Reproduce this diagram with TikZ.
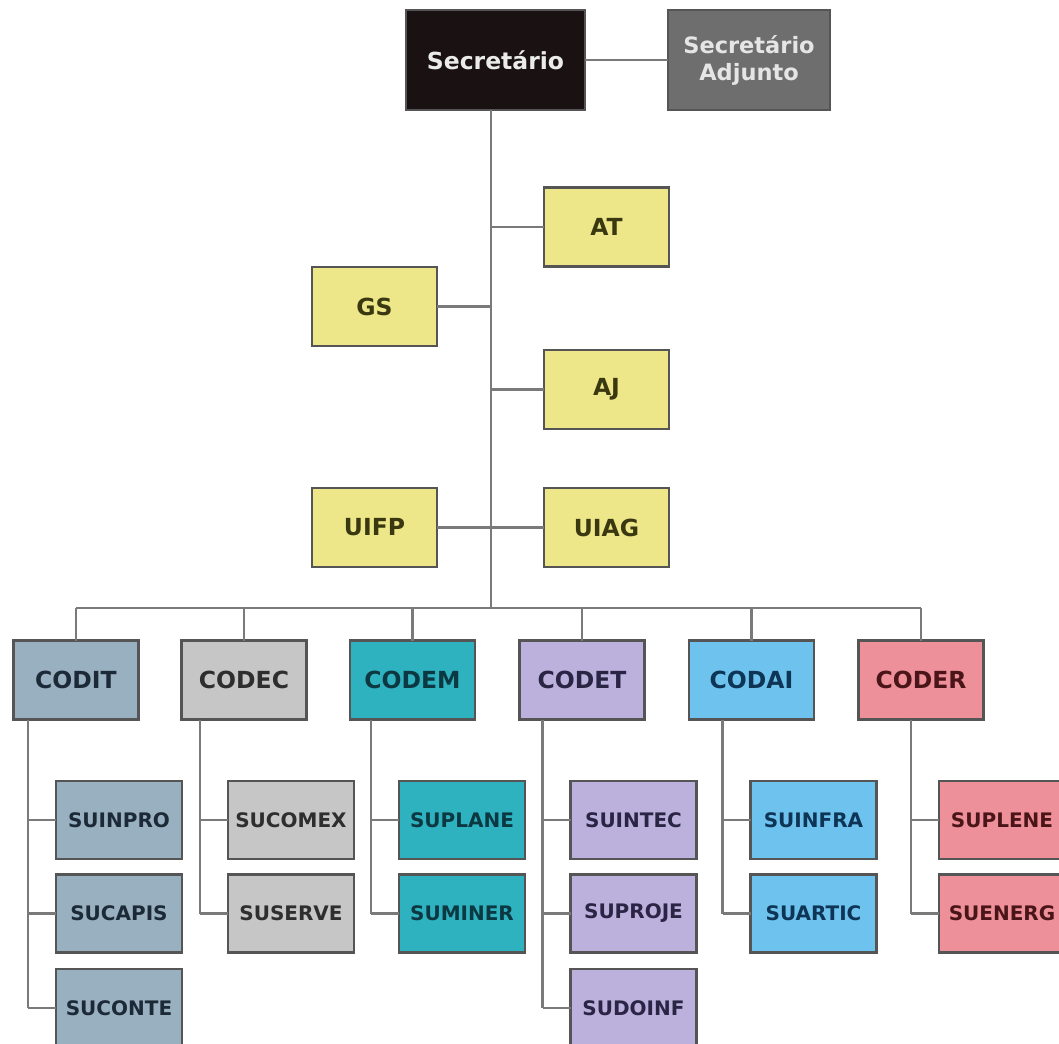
\documentclass[tikz,border=0pt]{standalone}
\usepackage{fontspec}
\setmainfont{DejaVu Sans}
\definecolor{conn}{HTML}{7A7A7A}
\definecolor{bord}{HTML}{555555}
\definecolor{secf}{HTML}{1A1212}
\definecolor{adjf}{HTML}{6E6E6E}
\definecolor{yelf}{HTML}{EDE78A}
\definecolor{yelt}{HTML}{3A3810}
\definecolor{ditf}{HTML}{99B0C1}
\definecolor{ditt}{HTML}{1C2A38}
\definecolor{decf}{HTML}{C6C6C6}
\definecolor{dect}{HTML}{2E2E2E}
\definecolor{demf}{HTML}{2FB2C0}
\definecolor{demt}{HTML}{0C3842}
\definecolor{detf}{HTML}{BCB1DC}
\definecolor{dett}{HTML}{2A2445}
\definecolor{daif}{HTML}{6EC3EE}
\definecolor{dait}{HTML}{0E3555}
\definecolor{derf}{HTML}{EE9099}
\definecolor{dert}{HTML}{4A1518}
\tikzset{
  box/.style={draw=bord, line width=2.2pt, inner sep=0pt, outer sep=0pt, align=center, font=\bfseries\fontsize{23.5}{27}\selectfont},
  topbox/.style={box, minimum width=125pt, minimum height=79pt},
  subbox/.style={box, minimum width=126pt, minimum height=78pt, font=\bfseries\fontsize{20}{24}\selectfont},
  ylw/.style={topbox, fill=yelf, text=yelt},
  link/.style={draw=conn, line width=2.8pt},
  dit/.style={fill=ditf, text=ditt},
  dec/.style={fill=decf, text=dect},
  dem/.style={fill=demf, text=demt},
  det/.style={fill=detf, text=dett},
  dai/.style={fill=daif, text=dait},
  der/.style={fill=derf, text=dert},
}
\begin{document}
\begin{tikzpicture}[x=1pt,y=-1pt]
\useasboundingbox (0,0) rectangle (1059,1043);
% top
\node[box, minimum width=179pt, minimum height=100pt, fill=secf, text=white!92!black] (sec) at (495.5,60) {Secretário};
\node[box, minimum width=162pt, minimum height=100pt, fill=adjf, text=white!90!black, font=\bfseries\fontsize{22.5}{27}\selectfont] (adj) at (749,60) {Secretário\\Adjunto};
\coordinate (bus) at (491,608);
% staff
\node[ylw] (at) at (606.5,227) {AT};
\node[ylw] (gs) at (374.5,306.5) {GS};
\node[ylw] (aj) at (606.5,389.5) {AJ};
\node[ylw] (uifp) at (374.5,527.5) {UIFP};
\node[ylw] (uiag) at (606.5,527.5) {UIAG};
% coordinations
\node[topbox, dit] (codit) at (76,680) {CODIT};
\node[topbox, dec] (codec) at (244,680) {CODEC};
\node[topbox, dem] (codem) at (412.5,680) {CODEM};
\node[topbox, det] (codet) at (582,680) {CODET};
\node[topbox, dai] (codai) at (751.5,680) {CODAI};
\node[topbox, der] (coder) at (921,680) {CODER};
% sub units
\node[subbox, dit] (suinpro) at (119,820) {SUINPRO};
\node[subbox, dit] (sucapis) at (119,913.5) {SUCAPIS};
\node[subbox, dit] (suconte) at (119,1008) {SUCONTE};
\node[subbox, dec] (sucomex) at (291,820) {SUCOMEX};
\node[subbox, dec] (suserve) at (291,913.5) {SUSERVE};
\node[subbox, dem] (suplane) at (462,820) {SUPLANE};
\node[subbox, dem] (suminer) at (462,913.5) {SUMINER};
\node[subbox, det] (suintec) at (633.5,820) {SUINTEC};
\node[subbox, det] (suproje) at (633.5,913.5) {SUPROJE};
\node[subbox, det] (sudoinf) at (633.5,1008) {SUDOINF};
\node[subbox, dai] (suinfra) at (813.5,820) {SUINFRA};
\node[subbox, dai] (suartic) at (813.5,913.5) {SUARTIC};
\node[subbox, der] (suplene) at (1002,820) {SUPLENE};
\node[subbox, der] (suenerg) at (1002,913.5) {SUENERG};
% connectors
\draw[link] (sec) -- (adj);
\draw[link] (sec.south -| bus) -- (bus);
\draw[link] (at.west) -- (at.west -| bus);
\draw[link] (gs.east) -- (gs.east -| bus);
\draw[link] (aj.west) -- (aj.west -| bus);
\draw[link] (uifp) -- (uiag);
\draw[link] (codit.north |- bus) -- (coder.north |- bus);
\foreach \n in {codit,codec,codem,codet,codai,coder}
  \draw[link] (\n.north) -- (\n.north |- bus);
\foreach \p/\first/\last/\subs in {codit/suinpro/suconte/{suinpro,sucapis,suconte},
                            codec/sucomex/suserve/{sucomex,suserve},
                            codem/suplane/suminer/{suplane,suminer},
                            codet/suintec/sudoinf/{suintec,suproje,sudoinf},
                            codai/suinfra/suartic/{suinfra,suartic},
                            coder/suplene/suenerg/{suplene,suenerg}}{
  \coordinate (\p-sp) at ([xshift=-28pt]\first.west);
  \draw[link] (\p.south -| \p-sp) -- (\p-sp |- \last.west);
  \foreach \s in \subs
    \draw[link] (\s.west) -- (\s.west -| \p-sp);
}
\end{tikzpicture}
\end{document}
